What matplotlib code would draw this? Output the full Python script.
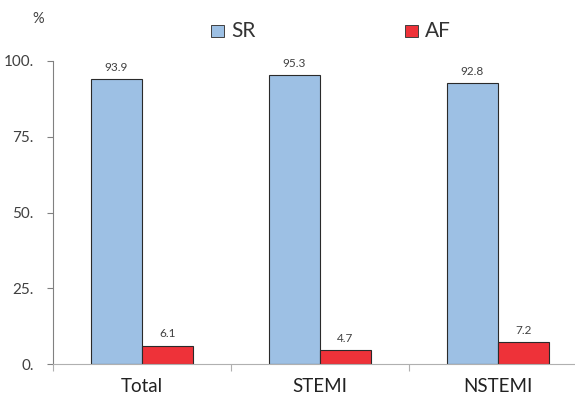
import numpy as np
import matplotlib
matplotlib.use("Agg")
import matplotlib.pyplot as plt
from matplotlib.patches import Rectangle

# =============================================================================
# DATA
# =============================================================================
categories = ["Total", "STEMI", "NSTEMI"]
sr_values = [93.9, 95.3, 92.8]
af_values = [6.1, 4.7, 7.2]
series_names = ["SR", "AF"]
y_ticks = [0, 25, 50, 75, 100]
y_tick_labels = ["0.", "25.", "50.", "75.", "100."]

plt.rcParams['font.family'] = ['Lato', 'DejaVu Sans']

SR_COLOR = "#9dc0e4"
AF_COLOR = "#ee3239"
TXT = "#404040"

fig = plt.figure(figsize=(5.75, 3.99), dpi=100)
# axes run a bit past the right edge, like the original
ax = fig.add_axes([53 / 575, 1 - 364 / 399, 534 / 575, 303 / 399])

x = np.arange(len(categories))
w = 0.287
ax.bar(x - w / 2, sr_values, w, color=SR_COLOR, edgecolor="#2a2a2a", linewidth=0.8)
ax.bar(x + w / 2, af_values, w, color=AF_COLOR, edgecolor="#2a2a2a", linewidth=0.8)

for xi, v in zip(x, sr_values):
    ax.text(xi - w / 2, v + 2, f"{v}", ha="center", va="bottom", fontsize=8.5, color=TXT)
for xi, v in zip(x, af_values):
    ax.text(xi + w / 2, v + 2, f"{v}", ha="center", va="bottom", fontsize=8.5, color=TXT)

ax.set_xlim(-0.5, 2.5)
ax.set_ylim(0, 100)
ax.set_yticks(y_ticks)
ax.set_yticklabels(y_tick_labels, fontsize=11, color=TXT)

# category labels in the middle, ticks at boundaries
ax.set_xticks([-0.5, 0.5, 1.5, 2.5])
ax.set_xticklabels([])
ax.set_xticks(x, minor=True)
ax.set_xticklabels(categories, minor=True, fontsize=13.5, color="#222222")
ax.tick_params(axis="x", which="major", length=5, color="#b0b0b0", direction="out")
ax.tick_params(axis="x", which="minor", length=0, pad=10)
ax.tick_params(axis="y", length=4, color="#808080", pad=10)

for s in ["top", "right"]:
    ax.spines[s].set_visible(False)
ax.spines["left"].set_color("#808080")
ax.spines["bottom"].set_color("#b0b0b0")

fig.text(38 / 575, 1 - 19 / 399, "%", ha="center", va="center", fontsize=10.5, color=TXT)

# legend
for sx, name, col in [(211, series_names[0], SR_COLOR), (405, series_names[1], AF_COLOR)]:
    fig.patches.append(Rectangle((sx / 575, 1 - 37 / 399), 13 / 575, 12 / 399,
                                 transform=fig.transFigure, facecolor=col,
                                 edgecolor="#404040", linewidth=0.7))
    fig.text((sx + 20) / 575, 1 - 31 / 399, name, ha="left", va="center",
             fontsize=15, color="#333333")

plt.savefig("out.png", dpi=100)
